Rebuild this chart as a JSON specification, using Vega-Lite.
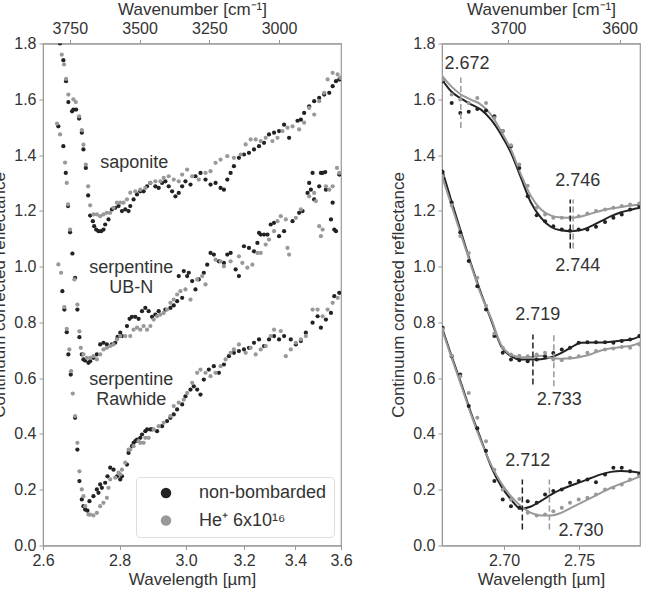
{
 "$schema": "https://vega.github.io/schema/vega-lite/v6.json",
 "padding": {"left": -10, "top": -0.5, "right": 0, "bottom": 0},
 "background": "white",
 "config": {
  "font": "Liberation Sans",
  "view": {"stroke": "#999999", "strokeWidth": 1.2},
  "axis": {"grid": false, "labelFontSize": 16, "titleFontSize": 17, "titleFontWeight": "normal", "labelColor": "#333333", "titleColor": "#333333", "domainColor": "#999999", "tickColor": "#999999", "tickSize": 4, "labelPadding": 3, "labelFont": "Liberation Sans", "titleFont": "Liberation Sans", "labelFlush": false, "labelOverlap": false, "labelBound": false},
  "text": {"font": "Liberation Sans"}
 },
 "datasets": {
  "left": [
   {"s":"S","g":"n","wn":3785.0,"r":1.8},{"s":"S","g":"n","wn":3773.2,"r":1.74},{"s":"S","g":"n","wn":3763.5,"r":1.665},{"s":"S","g":"n","wn":3755.2,"r":1.59},{"s":"S","g":"n","wn":3741.9,"r":1.557},{"s":"S","g":"n","wn":3737.2,"r":1.563},{"s":"S","g":"n","wn":3727.5,"r":1.563},{"s":"S","g":"n","wn":3716.7,"r":1.531},{"s":"S","g":"n","wn":3707.0,"r":1.48},{"s":"S","g":"n","wn":3701.2,"r":1.42},{"s":"S","g":"n","wn":3692.6,"r":1.354},{"s":"S","g":"n","wn":3684.3,"r":1.255},{"s":"S","g":"n","wn":3677.1,"r":1.183},{"s":"S","g":"n","wn":3667.4,"r":1.163},{"s":"S","g":"n","wn":3662.7,"r":1.145},{"s":"S","g":"n","wn":3655.5,"r":1.133},{"s":"S","g":"n","wn":3647.3,"r":1.127},{"s":"S","g":"n","wn":3637.6,"r":1.127},{"s":"S","g":"n","wn":3629.3,"r":1.133},{"s":"S","g":"n","wn":3623.2,"r":1.151},{"s":"S","g":"n","wn":3611.3,"r":1.169},{"s":"S","g":"n","wn":3599.1,"r":1.205},{"s":"S","g":"n","wn":3587.2,"r":1.211},{"s":"S","g":"n","wn":3575.3,"r":1.217},{"s":"S","g":"n","wn":3563.1,"r":1.199},{"s":"S","g":"n","wn":3551.2,"r":1.205},{"s":"S","g":"n","wn":3539.4,"r":1.199},{"s":"S","g":"n","wn":3533.3,"r":1.217},{"s":"S","g":"n","wn":3521.4,"r":1.241},{"s":"S","g":"n","wn":3509.2,"r":1.259},{"s":"S","g":"n","wn":3497.3,"r":1.27},{"s":"S","g":"n","wn":3485.4,"r":1.27},{"s":"S","g":"n","wn":3473.2,"r":1.288},{"s":"S","g":"n","wn":3461.3,"r":1.3},{"s":"S","g":"n","wn":3443.3,"r":1.288},{"s":"S","g":"n","wn":3431.4,"r":1.282},{"s":"S","g":"n","wn":3419.3,"r":1.3},{"s":"S","g":"n","wn":3407.4,"r":1.306},{"s":"S","g":"n","wn":3395.5,"r":1.288},{"s":"S","g":"n","wn":3383.3,"r":1.27},{"s":"S","g":"n","wn":3371.4,"r":1.252},{"s":"S","g":"n","wn":3359.5,"r":1.264},{"s":"S","g":"n","wn":3347.3,"r":1.288},{"s":"S","g":"n","wn":3335.4,"r":1.306},{"s":"S","g":"n","wn":3317.4,"r":1.294},{"s":"S","g":"n","wn":3299.5,"r":1.324},{"s":"S","g":"n","wn":3281.5,"r":1.336},{"s":"S","g":"n","wn":3263.5,"r":1.312},{"s":"S","g":"n","wn":3245.5,"r":1.294},{"s":"S","g":"n","wn":3227.5,"r":1.3},{"s":"S","g":"n","wn":3209.5,"r":1.282},{"s":"S","g":"n","wn":3197.6,"r":1.276},{"s":"S","g":"n","wn":3185.4,"r":1.312},{"s":"S","g":"n","wn":3173.5,"r":1.336},{"s":"S","g":"n","wn":3161.7,"r":1.36},{"s":"S","g":"n","wn":3143.7,"r":1.39},{"s":"S","g":"n","wn":3125.7,"r":1.402},{"s":"S","g":"n","wn":3107.7,"r":1.408},{"s":"S","g":"n","wn":3089.7,"r":1.42},{"s":"S","g":"n","wn":3071.7,"r":1.432},{"s":"S","g":"n","wn":3053.8,"r":1.444},{"s":"S","g":"n","wn":3035.8,"r":1.474},{"s":"S","g":"n","wn":3017.8,"r":1.48},{"s":"S","g":"n","wn":2999.8,"r":1.486},{"s":"S","g":"n","wn":2981.8,"r":1.509},{"s":"S","g":"n","wn":2963.8,"r":1.462},{"s":"S","g":"n","wn":2933.6,"r":1.523},{"s":"S","g":"n","wn":2921.7,"r":1.527},{"s":"S","g":"n","wn":2909.9,"r":1.551},{"s":"S","g":"n","wn":2891.9,"r":1.575},{"s":"S","g":"n","wn":2873.9,"r":1.593},{"s":"S","g":"n","wn":2855.9,"r":1.605},{"s":"S","g":"n","wn":2837.9,"r":1.617},{"s":"S","g":"n","wn":2819.9,"r":1.623},{"s":"S","g":"n","wn":2807.7,"r":1.647},{"s":"S","g":"n","wn":2795.8,"r":1.665},{"s":"S","g":"n","wn":2784.0,"r":1.671},
   {"s":"U","g":"n","wn":3791.2,"r":1.503},{"s":"U","g":"n","wn":3773.2,"r":1.432},{"s":"U","g":"n","wn":3764.5,"r":1.336},{"s":"U","g":"n","wn":3756.3,"r":1.217},{"s":"U","g":"n","wn":3749.1,"r":1.123},{"s":"U","g":"n","wn":3740.8,"r":1.047},{"s":"U","g":"n","wn":3731.1,"r":0.96},{"s":"U","g":"n","wn":3722.8,"r":0.846},{"s":"U","g":"n","wn":3715.6,"r":0.747},{"s":"U","g":"n","wn":3707.0,"r":0.685},{"s":"U","g":"n","wn":3701.2,"r":0.667},{"s":"U","g":"n","wn":3695.1,"r":0.663},{"s":"U","g":"n","wn":3683.3,"r":0.655},{"s":"U","g":"n","wn":3677.1,"r":0.661},{"s":"U","g":"n","wn":3665.3,"r":0.673},{"s":"U","g":"n","wn":3653.0,"r":0.685},{"s":"U","g":"n","wn":3641.2,"r":0.721},{"s":"U","g":"n","wn":3629.3,"r":0.727},{"s":"U","g":"n","wn":3617.1,"r":0.721},{"s":"U","g":"n","wn":3599.1,"r":0.721},{"s":"U","g":"n","wn":3587.2,"r":0.727},{"s":"U","g":"n","wn":3578.9,"r":0.748},{"s":"U","g":"n","wn":3569.2,"r":0.763},{"s":"U","g":"n","wn":3563.1,"r":0.751},{"s":"U","g":"n","wn":3545.1,"r":0.787},{"s":"U","g":"n","wn":3535.8,"r":0.813},{"s":"U","g":"n","wn":3527.2,"r":0.82},{"s":"U","g":"n","wn":3515.3,"r":0.82},{"s":"U","g":"n","wn":3503.4,"r":0.813},{"s":"U","g":"n","wn":3491.2,"r":0.84},{"s":"U","g":"n","wn":3479.3,"r":0.852},{"s":"U","g":"n","wn":3467.4,"r":0.84},{"s":"U","g":"n","wn":3455.2,"r":0.82},{"s":"U","g":"n","wn":3443.3,"r":0.828},{"s":"U","g":"n","wn":3431.4,"r":0.84},{"s":"U","g":"n","wn":3407.4,"r":0.846},{"s":"U","g":"n","wn":3389.4,"r":0.852},{"s":"U","g":"n","wn":3377.5,"r":0.861},{"s":"U","g":"n","wn":3365.3,"r":0.876},{"s":"U","g":"n","wn":3347.3,"r":0.888},{"s":"U","g":"n","wn":3359.5,"r":0.966},{"s":"U","g":"n","wn":3341.5,"r":0.984},{"s":"U","g":"n","wn":3329.3,"r":0.966},{"s":"U","g":"n","wn":3323.5,"r":0.978},{"s":"U","g":"n","wn":3311.3,"r":0.948},{"s":"U","g":"n","wn":3299.5,"r":0.918},{"s":"U","g":"n","wn":3287.6,"r":0.954},{"s":"U","g":"n","wn":3269.6,"r":0.978},{"s":"U","g":"n","wn":3257.4,"r":1.007},{"s":"U","g":"n","wn":3245.5,"r":1.049},{"s":"U","g":"n","wn":3233.6,"r":1.043},{"s":"U","g":"n","wn":3215.6,"r":1.019},{"s":"U","g":"n","wn":3197.6,"r":1.013},{"s":"U","g":"n","wn":3185.4,"r":1.043},{"s":"U","g":"n","wn":3173.5,"r":1.049},{"s":"U","g":"n","wn":3155.5,"r":0.99},{"s":"U","g":"n","wn":3143.7,"r":0.966},{"s":"U","g":"n","wn":3125.7,"r":1.073},{"s":"U","g":"n","wn":3107.7,"r":1.067},{"s":"U","g":"n","wn":3089.7,"r":1.055},{"s":"U","g":"n","wn":3077.5,"r":1.085},{"s":"U","g":"n","wn":3071.7,"r":1.121},{"s":"U","g":"n","wn":3065.6,"r":1.115},{"s":"U","g":"n","wn":3053.8,"r":1.115},{"s":"U","g":"n","wn":3041.6,"r":1.115},{"s":"U","g":"n","wn":3029.7,"r":1.151},{"s":"U","g":"n","wn":3017.8,"r":1.157},{"s":"U","g":"n","wn":2999.8,"r":1.109},{"s":"U","g":"n","wn":2981.8,"r":1.127},{"s":"U","g":"n","wn":2951.6,"r":1.163},{"s":"U","g":"n","wn":2927.8,"r":1.193},{"s":"U","g":"n","wn":2915.6,"r":1.199},{"s":"U","g":"n","wn":2897.7,"r":1.264},{"s":"U","g":"n","wn":2891.9,"r":1.3},{"s":"U","g":"n","wn":2885.8,"r":1.276},{"s":"U","g":"n","wn":2879.7,"r":1.336},{"s":"U","g":"n","wn":2873.9,"r":1.241},{"s":"U","g":"n","wn":2855.9,"r":1.288},{"s":"U","g":"n","wn":2849.8,"r":1.336},{"s":"U","g":"n","wn":2843.7,"r":1.336},{"s":"U","g":"n","wn":2834.3,"r":1.339},{"s":"U","g":"n","wn":2831.8,"r":1.276},{"s":"U","g":"n","wn":2813.8,"r":1.169},{"s":"U","g":"n","wn":2807.7,"r":1.229},{"s":"U","g":"n","wn":2801.9,"r":1.133},{"s":"U","g":"n","wn":2795.8,"r":1.127},{"s":"U","g":"n","wn":2784.0,"r":1.33},
   {"s":"R","g":"n","wn":3776.8,"r":0.912},{"s":"R","g":"n","wn":3769.6,"r":0.846},{"s":"R","g":"n","wn":3761.0,"r":0.765},{"s":"R","g":"n","wn":3755.2,"r":0.685},{"s":"R","g":"n","wn":3746.6,"r":0.613},{"s":"R","g":"n","wn":3731.1,"r":0.458},{"s":"R","g":"n","wn":3722.8,"r":0.344},{"s":"R","g":"n","wn":3715.6,"r":0.231},{"s":"R","g":"n","wn":3707.0,"r":0.165},{"s":"R","g":"n","wn":3701.2,"r":0.141},{"s":"R","g":"n","wn":3695.1,"r":0.129},{"s":"R","g":"n","wn":3686.8,"r":0.125},{"s":"R","g":"n","wn":3679.6,"r":0.159},{"s":"R","g":"n","wn":3665.3,"r":0.177},{"s":"R","g":"n","wn":3653.0,"r":0.201},{"s":"R","g":"n","wn":3647.3,"r":0.189},{"s":"R","g":"n","wn":3641.2,"r":0.219},{"s":"R","g":"n","wn":3635.1,"r":0.207},{"s":"R","g":"n","wn":3623.2,"r":0.225},{"s":"R","g":"n","wn":3614.9,"r":0.248},{"s":"R","g":"n","wn":3605.2,"r":0.279},{"s":"R","g":"n","wn":3593.3,"r":0.272},{"s":"R","g":"n","wn":3581.1,"r":0.248},{"s":"R","g":"n","wn":3569.2,"r":0.237},{"s":"R","g":"n","wn":3563.1,"r":0.248},{"s":"R","g":"n","wn":3545.1,"r":0.29},{"s":"R","g":"n","wn":3539.4,"r":0.332},{"s":"R","g":"n","wn":3527.2,"r":0.356},{"s":"R","g":"n","wn":3521.4,"r":0.368},{"s":"R","g":"n","wn":3515.3,"r":0.374},{"s":"R","g":"n","wn":3509.2,"r":0.38},{"s":"R","g":"n","wn":3497.3,"r":0.386},{"s":"R","g":"n","wn":3491.2,"r":0.398},{"s":"R","g":"n","wn":3479.3,"r":0.41},{"s":"R","g":"n","wn":3473.2,"r":0.416},{"s":"R","g":"n","wn":3461.3,"r":0.416},{"s":"R","g":"n","wn":3455.2,"r":0.416},{"s":"R","g":"n","wn":3437.2,"r":0.41},{"s":"R","g":"n","wn":3419.3,"r":0.428},{"s":"R","g":"n","wn":3401.3,"r":0.446},{"s":"R","g":"n","wn":3389.4,"r":0.458},{"s":"R","g":"n","wn":3377.5,"r":0.47},{"s":"R","g":"n","wn":3365.3,"r":0.488},{"s":"R","g":"n","wn":3347.3,"r":0.506},{"s":"R","g":"n","wn":3335.4,"r":0.535},{"s":"R","g":"n","wn":3317.4,"r":0.559},{"s":"R","g":"n","wn":3305.6,"r":0.571},{"s":"R","g":"n","wn":3293.4,"r":0.559},{"s":"R","g":"n","wn":3281.5,"r":0.541},{"s":"R","g":"n","wn":3269.6,"r":0.595},{"s":"R","g":"n","wn":3251.6,"r":0.631},{"s":"R","g":"n","wn":3233.6,"r":0.643},{"s":"R","g":"n","wn":3215.6,"r":0.619},{"s":"R","g":"n","wn":3197.6,"r":0.649},{"s":"R","g":"n","wn":3179.6,"r":0.679},{"s":"R","g":"n","wn":3161.7,"r":0.691},{"s":"R","g":"n","wn":3143.7,"r":0.697},{"s":"R","g":"n","wn":3125.7,"r":0.703},{"s":"R","g":"n","wn":3107.7,"r":0.709},{"s":"R","g":"n","wn":3089.7,"r":0.727},{"s":"R","g":"n","wn":3071.7,"r":0.739},{"s":"R","g":"n","wn":3053.8,"r":0.715},{"s":"R","g":"n","wn":3035.8,"r":0.739},{"s":"R","g":"n","wn":3017.8,"r":0.751},{"s":"R","g":"n","wn":2999.8,"r":0.739},{"s":"R","g":"n","wn":2981.8,"r":0.751},{"s":"R","g":"n","wn":2957.7,"r":0.739},{"s":"R","g":"n","wn":2939.7,"r":0.721},{"s":"R","g":"n","wn":2921.7,"r":0.733},{"s":"R","g":"n","wn":2903.8,"r":0.763},{"s":"R","g":"n","wn":2879.7,"r":0.799},{"s":"R","g":"n","wn":2861.7,"r":0.822},{"s":"R","g":"n","wn":2849.8,"r":0.781},{"s":"R","g":"n","wn":2831.8,"r":0.81},{"s":"R","g":"n","wn":2813.8,"r":0.834},{"s":"R","g":"n","wn":2801.9,"r":0.894},{"s":"R","g":"n","wn":2784.0,"r":0.906},
   {"s":"S","g":"h","wn":3791.2,"r":1.81},{"s":"S","g":"h","wn":3778.9,"r":1.76},{"s":"S","g":"h","wn":3770.7,"r":1.725},{"s":"S","g":"h","wn":3763.5,"r":1.673},{"s":"S","g":"h","wn":3755.2,"r":1.617},{"s":"S","g":"h","wn":3737.2,"r":1.6},{"s":"S","g":"h","wn":3728.6,"r":1.59},{"s":"S","g":"h","wn":3716.7,"r":1.539},{"s":"S","g":"h","wn":3707.0,"r":1.489},{"s":"S","g":"h","wn":3701.2,"r":1.437},{"s":"S","g":"h","wn":3692.6,"r":1.366},{"s":"S","g":"h","wn":3684.3,"r":1.288},{"s":"S","g":"h","wn":3677.1,"r":1.22},{"s":"S","g":"h","wn":3665.3,"r":1.187},{"s":"S","g":"h","wn":3653.0,"r":1.187},{"s":"S","g":"h","wn":3641.2,"r":1.181},{"s":"S","g":"h","wn":3629.3,"r":1.187},{"s":"S","g":"h","wn":3617.1,"r":1.193},{"s":"S","g":"h","wn":3605.2,"r":1.193},{"s":"S","g":"h","wn":3593.3,"r":1.211},{"s":"S","g":"h","wn":3581.1,"r":1.229},{"s":"S","g":"h","wn":3569.2,"r":1.229},{"s":"S","g":"h","wn":3557.4,"r":1.229},{"s":"S","g":"h","wn":3545.1,"r":1.241},{"s":"S","g":"h","wn":3533.3,"r":1.265},{"s":"S","g":"h","wn":3515.3,"r":1.27},{"s":"S","g":"h","wn":3497.3,"r":1.276},{"s":"S","g":"h","wn":3479.3,"r":1.282},{"s":"S","g":"h","wn":3461.3,"r":1.3},{"s":"S","g":"h","wn":3443.3,"r":1.306},{"s":"S","g":"h","wn":3425.3,"r":1.306},{"s":"S","g":"h","wn":3413.5,"r":1.318},{"s":"S","g":"h","wn":3395.5,"r":1.324},{"s":"S","g":"h","wn":3377.5,"r":1.312},{"s":"S","g":"h","wn":3359.5,"r":1.306},{"s":"S","g":"h","wn":3347.3,"r":1.33},{"s":"S","g":"h","wn":3329.3,"r":1.348},{"s":"S","g":"h","wn":3311.3,"r":1.324},{"s":"S","g":"h","wn":3287.6,"r":1.312},{"s":"S","g":"h","wn":3263.5,"r":1.336},{"s":"S","g":"h","wn":3245.5,"r":1.342},{"s":"S","g":"h","wn":3227.5,"r":1.372},{"s":"S","g":"h","wn":3209.5,"r":1.384},{"s":"S","g":"h","wn":3185.4,"r":1.396},{"s":"S","g":"h","wn":3161.7,"r":1.39},{"s":"S","g":"h","wn":3137.6,"r":1.402},{"s":"S","g":"h","wn":3119.6,"r":1.438},{"s":"S","g":"h","wn":3101.6,"r":1.456},{"s":"S","g":"h","wn":3083.6,"r":1.456},{"s":"S","g":"h","wn":3065.6,"r":1.45},{"s":"S","g":"h","wn":3047.7,"r":1.462},{"s":"S","g":"h","wn":3023.6,"r":1.45},{"s":"S","g":"h","wn":3005.6,"r":1.462},{"s":"S","g":"h","wn":2987.6,"r":1.486},{"s":"S","g":"h","wn":2969.6,"r":1.498},{"s":"S","g":"h","wn":2951.6,"r":1.503},{"s":"S","g":"h","wn":2927.8,"r":1.492},{"s":"S","g":"h","wn":2909.9,"r":1.516},{"s":"S","g":"h","wn":2891.9,"r":1.569},{"s":"S","g":"h","wn":2873.9,"r":1.545},{"s":"S","g":"h","wn":2855.9,"r":1.593},{"s":"S","g":"h","wn":2837.9,"r":1.623},{"s":"S","g":"h","wn":2825.7,"r":1.671},{"s":"S","g":"h","wn":2807.7,"r":1.695},{"s":"S","g":"h","wn":2789.7,"r":1.689},{"s":"S","g":"h","wn":2780.0,"r":1.677},
   {"s":"U","g":"h","wn":3795.8,"r":1.513},{"s":"U","g":"h","wn":3785.0,"r":1.474},{"s":"U","g":"h","wn":3767.1,"r":1.373},{"s":"U","g":"h","wn":3761.0,"r":1.3},{"s":"U","g":"h","wn":3756.3,"r":1.223},{"s":"U","g":"h","wn":3749.1,"r":1.133},{"s":"U","g":"h","wn":3733.6,"r":0.954},{"s":"U","g":"h","wn":3722.8,"r":0.864},{"s":"U","g":"h","wn":3715.6,"r":0.768},{"s":"U","g":"h","wn":3710.6,"r":0.709},{"s":"U","g":"h","wn":3701.2,"r":0.685},{"s":"U","g":"h","wn":3689.0,"r":0.673},{"s":"U","g":"h","wn":3677.1,"r":0.673},{"s":"U","g":"h","wn":3665.3,"r":0.679},{"s":"U","g":"h","wn":3653.0,"r":0.667},{"s":"U","g":"h","wn":3641.2,"r":0.685},{"s":"U","g":"h","wn":3629.3,"r":0.703},{"s":"U","g":"h","wn":3617.1,"r":0.709},{"s":"U","g":"h","wn":3605.2,"r":0.715},{"s":"U","g":"h","wn":3593.3,"r":0.721},{"s":"U","g":"h","wn":3581.1,"r":0.739},{"s":"U","g":"h","wn":3569.2,"r":0.751},{"s":"U","g":"h","wn":3551.2,"r":0.751},{"s":"U","g":"h","wn":3533.3,"r":0.751},{"s":"U","g":"h","wn":3521.4,"r":0.774},{"s":"U","g":"h","wn":3509.2,"r":0.781},{"s":"U","g":"h","wn":3497.3,"r":0.774},{"s":"U","g":"h","wn":3485.4,"r":0.787},{"s":"U","g":"h","wn":3473.2,"r":0.774},{"s":"U","g":"h","wn":3461.3,"r":0.787},{"s":"U","g":"h","wn":3449.4,"r":0.81},{"s":"U","g":"h","wn":3437.2,"r":0.822},{"s":"U","g":"h","wn":3425.3,"r":0.828},{"s":"U","g":"h","wn":3413.5,"r":0.834},{"s":"U","g":"h","wn":3401.3,"r":0.846},{"s":"U","g":"h","wn":3389.4,"r":0.87},{"s":"U","g":"h","wn":3377.5,"r":0.882},{"s":"U","g":"h","wn":3365.3,"r":0.9},{"s":"U","g":"h","wn":3353.4,"r":0.912},{"s":"U","g":"h","wn":3335.4,"r":0.918},{"s":"U","g":"h","wn":3317.4,"r":0.882},{"s":"U","g":"h","wn":3293.4,"r":0.954},{"s":"U","g":"h","wn":3275.4,"r":0.966},{"s":"U","g":"h","wn":3263.5,"r":0.936},{"s":"U","g":"h","wn":3227.5,"r":1.025},{"s":"U","g":"h","wn":3209.5,"r":1.019},{"s":"U","g":"h","wn":3197.6,"r":1.001},{"s":"U","g":"h","wn":3173.5,"r":1.019},{"s":"U","g":"h","wn":3143.7,"r":1.037},{"s":"U","g":"h","wn":3131.5,"r":1.013},{"s":"U","g":"h","wn":3113.5,"r":0.996},{"s":"U","g":"h","wn":3095.5,"r":1.007},{"s":"U","g":"h","wn":3077.5,"r":1.049},{"s":"U","g":"h","wn":3065.6,"r":1.049},{"s":"U","g":"h","wn":3047.7,"r":1.079},{"s":"U","g":"h","wn":3035.8,"r":1.097},{"s":"U","g":"h","wn":3017.8,"r":1.127},{"s":"U","g":"h","wn":3005.6,"r":1.163},{"s":"U","g":"h","wn":2993.7,"r":1.181},{"s":"U","g":"h","wn":2975.7,"r":1.169},{"s":"U","g":"h","wn":2969.6,"r":1.067},{"s":"U","g":"h","wn":2963.8,"r":1.043},{"s":"U","g":"h","wn":2939.7,"r":1.175},{"s":"U","g":"h","wn":2921.7,"r":1.205},{"s":"U","g":"h","wn":2891.9,"r":1.252},{"s":"U","g":"h","wn":2873.9,"r":1.264},{"s":"U","g":"h","wn":2867.8,"r":1.235},{"s":"U","g":"h","wn":2855.9,"r":1.145},{"s":"U","g":"h","wn":2849.8,"r":1.109},{"s":"U","g":"h","wn":2843.7,"r":1.133},{"s":"U","g":"h","wn":2831.8,"r":1.288},{"s":"U","g":"h","wn":2819.9,"r":1.276},{"s":"U","g":"h","wn":2807.7,"r":1.288},{"s":"U","g":"h","wn":2792.2,"r":1.354},{"s":"U","g":"h","wn":2784.0,"r":1.336},
   {"s":"R","g":"h","wn":3791.2,"r":1.008},{"s":"R","g":"h","wn":3781.4,"r":0.978},{"s":"R","g":"h","wn":3769.6,"r":0.855},{"s":"R","g":"h","wn":3761.0,"r":0.777},{"s":"R","g":"h","wn":3751.6,"r":0.703},{"s":"R","g":"h","wn":3745.5,"r":0.625},{"s":"R","g":"h","wn":3739.4,"r":0.545},{"s":"R","g":"h","wn":3731.1,"r":0.464},{"s":"R","g":"h","wn":3722.8,"r":0.368},{"s":"R","g":"h","wn":3715.6,"r":0.266},{"s":"R","g":"h","wn":3707.0,"r":0.201},{"s":"R","g":"h","wn":3701.2,"r":0.177},{"s":"R","g":"h","wn":3695.1,"r":0.141},{"s":"R","g":"h","wn":3683.3,"r":0.111},{"s":"R","g":"h","wn":3677.1,"r":0.111},{"s":"R","g":"h","wn":3665.3,"r":0.108},{"s":"R","g":"h","wn":3653.0,"r":0.117},{"s":"R","g":"h","wn":3641.2,"r":0.141},{"s":"R","g":"h","wn":3629.3,"r":0.153},{"s":"R","g":"h","wn":3617.1,"r":0.171},{"s":"R","g":"h","wn":3611.3,"r":0.207},{"s":"R","g":"h","wn":3605.2,"r":0.237},{"s":"R","g":"h","wn":3587.2,"r":0.243},{"s":"R","g":"h","wn":3575.3,"r":0.261},{"s":"R","g":"h","wn":3569.2,"r":0.255},{"s":"R","g":"h","wn":3563.1,"r":0.272},{"s":"R","g":"h","wn":3551.2,"r":0.297},{"s":"R","g":"h","wn":3539.4,"r":0.344},{"s":"R","g":"h","wn":3533.3,"r":0.344},{"s":"R","g":"h","wn":3521.4,"r":0.356},{"s":"R","g":"h","wn":3503.4,"r":0.374},{"s":"R","g":"h","wn":3497.3,"r":0.368},{"s":"R","g":"h","wn":3485.4,"r":0.368},{"s":"R","g":"h","wn":3479.3,"r":0.386},{"s":"R","g":"h","wn":3467.4,"r":0.386},{"s":"R","g":"h","wn":3449.4,"r":0.416},{"s":"R","g":"h","wn":3431.4,"r":0.428},{"s":"R","g":"h","wn":3413.5,"r":0.44},{"s":"R","g":"h","wn":3389.4,"r":0.464},{"s":"R","g":"h","wn":3377.5,"r":0.5},{"s":"R","g":"h","wn":3359.5,"r":0.512},{"s":"R","g":"h","wn":3341.5,"r":0.523},{"s":"R","g":"h","wn":3329.3,"r":0.547},{"s":"R","g":"h","wn":3311.3,"r":0.583},{"s":"R","g":"h","wn":3293.4,"r":0.619},{"s":"R","g":"h","wn":3281.5,"r":0.631},{"s":"R","g":"h","wn":3263.5,"r":0.619},{"s":"R","g":"h","wn":3245.5,"r":0.607},{"s":"R","g":"h","wn":3227.5,"r":0.619},{"s":"R","g":"h","wn":3209.5,"r":0.643},{"s":"R","g":"h","wn":3191.5,"r":0.667},{"s":"R","g":"h","wn":3173.5,"r":0.691},{"s":"R","g":"h","wn":3161.7,"r":0.703},{"s":"R","g":"h","wn":3143.7,"r":0.721},{"s":"R","g":"h","wn":3119.6,"r":0.691},{"s":"R","g":"h","wn":3101.6,"r":0.709},{"s":"R","g":"h","wn":3083.6,"r":0.685},{"s":"R","g":"h","wn":3065.6,"r":0.703},{"s":"R","g":"h","wn":3047.7,"r":0.715},{"s":"R","g":"h","wn":3029.7,"r":0.751},{"s":"R","g":"h","wn":3017.8,"r":0.774},{"s":"R","g":"h","wn":2993.7,"r":0.769},{"s":"R","g":"h","wn":2975.7,"r":0.679},{"s":"R","g":"h","wn":2957.7,"r":0.703},{"s":"R","g":"h","wn":2939.7,"r":0.727},{"s":"R","g":"h","wn":2921.7,"r":0.739},{"s":"R","g":"h","wn":2903.8,"r":0.751},{"s":"R","g":"h","wn":2879.7,"r":0.846},{"s":"R","g":"h","wn":2861.7,"r":0.846},{"s":"R","g":"h","wn":2843.7,"r":0.822},{"s":"R","g":"h","wn":2825.7,"r":0.846},{"s":"R","g":"h","wn":2807.7,"r":0.87},{"s":"R","g":"h","wn":2789.7,"r":0.888}
  ],
  "ltext": [
   {"wn":3518.9,"r":1.373,"t":"saponite"},{"wn":3529.7,"r":0.996,"t":"serpentine"},{"wn":3529.7,"r":0.924,"t":"UB-N"},{"wn":3529.7,"r":0.594,"t":"serpentine"},{"wn":3529.7,"r":0.521,"t":"Rawhide"}
  ],
  "rpts": [
   {"s":"S","g":"n","wn":3758.8,"r":1.665},{"s":"S","g":"n","wn":3750.7,"r":1.587},{"s":"S","g":"n","wn":3743.0,"r":1.551},{"s":"S","g":"n","wn":3735.4,"r":1.555},{"s":"S","g":"n","wn":3727.7,"r":1.565},{"s":"S","g":"n","wn":3719.9,"r":1.56},{"s":"S","g":"n","wn":3712.4,"r":1.539},{"s":"S","g":"n","wn":3704.9,"r":1.486},{"s":"S","g":"n","wn":3697.5,"r":1.432},{"s":"S","g":"n","wn":3690.0,"r":1.354},{"s":"S","g":"n","wn":3682.5,"r":1.252},{"s":"S","g":"n","wn":3674.4,"r":1.184},{"s":"S","g":"n","wn":3666.9,"r":1.163},{"s":"S","g":"n","wn":3659.5,"r":1.145},{"s":"S","g":"n","wn":3651.9,"r":1.133},{"s":"S","g":"n","wn":3644.5,"r":1.129},{"s":"S","g":"n","wn":3636.7,"r":1.133},{"s":"S","g":"n","wn":3628.9,"r":1.133},{"s":"S","g":"n","wn":3621.2,"r":1.143},{"s":"S","g":"n","wn":3613.1,"r":1.16},{"s":"S","g":"n","wn":3605.6,"r":1.175},{"s":"S","g":"n","wn":3598.1,"r":1.187},{"s":"S","g":"n","wn":3590.6,"r":1.205},{"s":"S","g":"n","wn":3582.3,"r":1.217},
   {"s":"U","g":"n","wn":3758.8,"r":1.339},{"s":"U","g":"n","wn":3750.7,"r":1.23},{"s":"U","g":"n","wn":3743.0,"r":1.123},{"s":"U","g":"n","wn":3735.4,"r":1.02},{"s":"U","g":"n","wn":3727.7,"r":0.93},{"s":"U","g":"n","wn":3719.9,"r":0.846},{"s":"U","g":"n","wn":3712.4,"r":0.751},{"s":"U","g":"n","wn":3704.9,"r":0.691},{"s":"U","g":"n","wn":3697.5,"r":0.667},{"s":"U","g":"n","wn":3690.0,"r":0.664},{"s":"U","g":"n","wn":3682.5,"r":0.661},{"s":"U","g":"n","wn":3674.4,"r":0.667},{"s":"U","g":"n","wn":3666.9,"r":0.679},{"s":"U","g":"n","wn":3659.5,"r":0.69},{"s":"U","g":"n","wn":3651.9,"r":0.703},{"s":"U","g":"n","wn":3644.5,"r":0.709},{"s":"U","g":"n","wn":3636.7,"r":0.727},{"s":"U","g":"n","wn":3628.9,"r":0.729},{"s":"U","g":"n","wn":3621.2,"r":0.729},{"s":"U","g":"n","wn":3613.1,"r":0.729},{"s":"U","g":"n","wn":3605.6,"r":0.727},{"s":"U","g":"n","wn":3598.1,"r":0.733},{"s":"U","g":"n","wn":3590.6,"r":0.739},{"s":"U","g":"n","wn":3582.3,"r":0.751},
   {"s":"R","g":"n","wn":3758.8,"r":0.781},{"s":"R","g":"n","wn":3750.7,"r":0.679},{"s":"R","g":"n","wn":3743.0,"r":0.613},{"s":"R","g":"n","wn":3735.4,"r":0.5},{"s":"R","g":"n","wn":3727.7,"r":0.42},{"s":"R","g":"n","wn":3719.9,"r":0.34},{"s":"R","g":"n","wn":3712.4,"r":0.231},{"s":"R","g":"n","wn":3704.9,"r":0.165},{"s":"R","g":"n","wn":3697.5,"r":0.141},{"s":"R","g":"n","wn":3690.0,"r":0.135},{"s":"R","g":"n","wn":3682.5,"r":0.159},{"s":"R","g":"n","wn":3674.4,"r":0.153},{"s":"R","g":"n","wn":3666.9,"r":0.183},{"s":"R","g":"n","wn":3659.5,"r":0.195},{"s":"R","g":"n","wn":3651.9,"r":0.201},{"s":"R","g":"n","wn":3644.5,"r":0.225},{"s":"R","g":"n","wn":3636.7,"r":0.231},{"s":"R","g":"n","wn":3628.9,"r":0.237},{"s":"R","g":"n","wn":3621.2,"r":0.227},{"s":"R","g":"n","wn":3613.1,"r":0.255},{"s":"R","g":"n","wn":3605.6,"r":0.279},{"s":"R","g":"n","wn":3598.1,"r":0.279},{"s":"R","g":"n","wn":3590.6,"r":0.266},{"s":"R","g":"n","wn":3582.3,"r":0.255},
   {"s":"S","g":"h","wn":3758.8,"r":1.67},{"s":"S","g":"h","wn":3750.7,"r":1.617},{"s":"S","g":"h","wn":3743.0,"r":1.599},{"s":"S","g":"h","wn":3735.4,"r":1.587},{"s":"S","g":"h","wn":3727.7,"r":1.605},{"s":"S","g":"h","wn":3719.9,"r":1.587},{"s":"S","g":"h","wn":3712.4,"r":1.533},{"s":"S","g":"h","wn":3704.9,"r":1.486},{"s":"S","g":"h","wn":3697.5,"r":1.435},{"s":"S","g":"h","wn":3690.0,"r":1.366},{"s":"S","g":"h","wn":3682.5,"r":1.29},{"s":"S","g":"h","wn":3674.4,"r":1.211},{"s":"S","g":"h","wn":3666.9,"r":1.187},{"s":"S","g":"h","wn":3659.5,"r":1.175},{"s":"S","g":"h","wn":3651.9,"r":1.175},{"s":"S","g":"h","wn":3644.5,"r":1.175},{"s":"S","g":"h","wn":3636.7,"r":1.181},{"s":"S","g":"h","wn":3628.9,"r":1.19},{"s":"S","g":"h","wn":3621.2,"r":1.199},{"s":"S","g":"h","wn":3613.1,"r":1.205},{"s":"S","g":"h","wn":3605.6,"r":1.211},{"s":"S","g":"h","wn":3598.1,"r":1.217},{"s":"S","g":"h","wn":3590.6,"r":1.223},{"s":"S","g":"h","wn":3582.3,"r":1.226},
   {"s":"U","g":"h","wn":3758.8,"r":1.324},{"s":"U","g":"h","wn":3750.7,"r":1.22},{"s":"U","g":"h","wn":3743.0,"r":1.11},{"s":"U","g":"h","wn":3735.4,"r":1.049},{"s":"U","g":"h","wn":3727.7,"r":0.96},{"s":"U","g":"h","wn":3719.9,"r":0.86},{"s":"U","g":"h","wn":3712.4,"r":0.76},{"s":"U","g":"h","wn":3704.9,"r":0.709},{"s":"U","g":"h","wn":3697.5,"r":0.685},{"s":"U","g":"h","wn":3690.0,"r":0.68},{"s":"U","g":"h","wn":3682.5,"r":0.679},{"s":"U","g":"h","wn":3674.4,"r":0.685},{"s":"U","g":"h","wn":3666.9,"r":0.691},{"s":"U","g":"h","wn":3659.5,"r":0.667},{"s":"U","g":"h","wn":3651.9,"r":0.664},{"s":"U","g":"h","wn":3644.5,"r":0.673},{"s":"U","g":"h","wn":3636.7,"r":0.679},{"s":"U","g":"h","wn":3628.9,"r":0.691},{"s":"U","g":"h","wn":3621.2,"r":0.697},{"s":"U","g":"h","wn":3613.1,"r":0.703},{"s":"U","g":"h","wn":3605.6,"r":0.706},{"s":"U","g":"h","wn":3598.1,"r":0.712},{"s":"U","g":"h","wn":3590.6,"r":0.709},{"s":"U","g":"h","wn":3582.3,"r":0.721},
   {"s":"R","g":"h","wn":3758.8,"r":0.775},{"s":"R","g":"h","wn":3750.7,"r":0.68},{"s":"R","g":"h","wn":3743.0,"r":0.607},{"s":"R","g":"h","wn":3735.4,"r":0.547},{"s":"R","g":"h","wn":3727.7,"r":0.458},{"s":"R","g":"h","wn":3719.9,"r":0.374},{"s":"R","g":"h","wn":3712.4,"r":0.272},{"s":"R","g":"h","wn":3704.9,"r":0.201},{"s":"R","g":"h","wn":3697.5,"r":0.165},{"s":"R","g":"h","wn":3690.0,"r":0.167},{"s":"R","g":"h","wn":3682.5,"r":0.117},{"s":"R","g":"h","wn":3674.4,"r":0.108},{"s":"R","g":"h","wn":3666.9,"r":0.111},{"s":"R","g":"h","wn":3659.5,"r":0.123},{"s":"R","g":"h","wn":3651.9,"r":0.135},{"s":"R","g":"h","wn":3644.5,"r":0.153},{"s":"R","g":"h","wn":3636.7,"r":0.165},{"s":"R","g":"h","wn":3628.9,"r":0.171},{"s":"R","g":"h","wn":3621.2,"r":0.183},{"s":"R","g":"h","wn":3613.1,"r":0.201},{"s":"R","g":"h","wn":3605.6,"r":0.207},{"s":"R","g":"h","wn":3598.1,"r":0.219},{"s":"R","g":"h","wn":3590.6,"r":0.237},{"s":"R","g":"h","wn":3582.3,"r":0.248}
  ],
  "rline": [
   {"s":"S","g":"n","wn":3759.4,"r":1.671},{"s":"S","g":"n","wn":3751.3,"r":1.629},{"s":"S","g":"n","wn":3742.4,"r":1.603},{"s":"S","g":"n","wn":3733.4,"r":1.582},{"s":"S","g":"n","wn":3724.4,"r":1.563},{"s":"S","g":"n","wn":3715.4,"r":1.527},{"s":"S","g":"n","wn":3706.4,"r":1.474},{"s":"S","g":"n","wn":3697.5,"r":1.408},{"s":"S","g":"n","wn":3688.5,"r":1.318},{"s":"S","g":"n","wn":3679.5,"r":1.229},{"s":"S","g":"n","wn":3670.5,"r":1.175},{"s":"S","g":"n","wn":3661.5,"r":1.142},{"s":"S","g":"n","wn":3652.6,"r":1.13},{"s":"S","g":"n","wn":3643.6,"r":1.127},{"s":"S","g":"n","wn":3634.6,"r":1.131},{"s":"S","g":"n","wn":3625.6,"r":1.145},{"s":"S","g":"n","wn":3616.7,"r":1.163},{"s":"S","g":"n","wn":3607.7,"r":1.181},{"s":"S","g":"n","wn":3598.7,"r":1.195},{"s":"S","g":"n","wn":3589.7,"r":1.204},{"s":"S","g":"n","wn":3581.4,"r":1.211},
   {"s":"S","g":"h","wn":3759.4,"r":1.685},{"s":"S","g":"h","wn":3751.3,"r":1.647},{"s":"S","g":"h","wn":3742.4,"r":1.617},{"s":"S","g":"h","wn":3733.4,"r":1.599},{"s":"S","g":"h","wn":3724.4,"r":1.581},{"s":"S","g":"h","wn":3715.4,"r":1.545},{"s":"S","g":"h","wn":3706.4,"r":1.486},{"s":"S","g":"h","wn":3697.5,"r":1.42},{"s":"S","g":"h","wn":3688.5,"r":1.33},{"s":"S","g":"h","wn":3679.5,"r":1.252},{"s":"S","g":"h","wn":3670.5,"r":1.205},{"s":"S","g":"h","wn":3661.5,"r":1.183},{"s":"S","g":"h","wn":3652.6,"r":1.176},{"s":"S","g":"h","wn":3643.6,"r":1.175},{"s":"S","g":"h","wn":3634.6,"r":1.18},{"s":"S","g":"h","wn":3625.6,"r":1.19},{"s":"S","g":"h","wn":3616.7,"r":1.2},{"s":"S","g":"h","wn":3607.7,"r":1.208},{"s":"S","g":"h","wn":3598.7,"r":1.214},{"s":"S","g":"h","wn":3589.7,"r":1.219},{"s":"S","g":"h","wn":3581.4,"r":1.223},
   {"s":"U","g":"n","wn":3759.4,"r":1.348},{"s":"U","g":"n","wn":3751.3,"r":1.24},{"s":"U","g":"n","wn":3742.4,"r":1.125},{"s":"U","g":"n","wn":3733.4,"r":1.01},{"s":"U","g":"n","wn":3724.4,"r":0.905},{"s":"U","g":"n","wn":3715.4,"r":0.81},{"s":"U","g":"n","wn":3706.4,"r":0.715},{"s":"U","g":"n","wn":3697.5,"r":0.679},{"s":"U","g":"n","wn":3688.5,"r":0.667},{"s":"U","g":"n","wn":3679.5,"r":0.667},{"s":"U","g":"n","wn":3670.5,"r":0.668},{"s":"U","g":"n","wn":3661.5,"r":0.675},{"s":"U","g":"n","wn":3652.6,"r":0.69},{"s":"U","g":"n","wn":3643.6,"r":0.71},{"s":"U","g":"n","wn":3634.6,"r":0.727},{"s":"U","g":"n","wn":3625.6,"r":0.728},{"s":"U","g":"n","wn":3616.7,"r":0.728},{"s":"U","g":"n","wn":3607.7,"r":0.731},{"s":"U","g":"n","wn":3598.7,"r":0.735},{"s":"U","g":"n","wn":3589.7,"r":0.739},{"s":"U","g":"n","wn":3581.4,"r":0.751},
   {"s":"U","g":"h","wn":3759.4,"r":1.324},{"s":"U","g":"h","wn":3751.3,"r":1.225},{"s":"U","g":"h","wn":3742.4,"r":1.115},{"s":"U","g":"h","wn":3733.4,"r":1.005},{"s":"U","g":"h","wn":3724.4,"r":0.9},{"s":"U","g":"h","wn":3715.4,"r":0.815},{"s":"U","g":"h","wn":3706.4,"r":0.72},{"s":"U","g":"h","wn":3697.5,"r":0.684},{"s":"U","g":"h","wn":3688.5,"r":0.675},{"s":"U","g":"h","wn":3679.5,"r":0.676},{"s":"U","g":"h","wn":3670.5,"r":0.68},{"s":"U","g":"h","wn":3661.5,"r":0.672},{"s":"U","g":"h","wn":3652.6,"r":0.67},{"s":"U","g":"h","wn":3643.6,"r":0.671},{"s":"U","g":"h","wn":3634.6,"r":0.677},{"s":"U","g":"h","wn":3625.6,"r":0.686},{"s":"U","g":"h","wn":3616.7,"r":0.699},{"s":"U","g":"h","wn":3607.7,"r":0.707},{"s":"U","g":"h","wn":3598.7,"r":0.712},{"s":"U","g":"h","wn":3589.7,"r":0.716},{"s":"U","g":"h","wn":3581.4,"r":0.727},
   {"s":"R","g":"n","wn":3759.4,"r":0.781},{"s":"R","g":"n","wn":3751.3,"r":0.685},{"s":"R","g":"n","wn":3742.4,"r":0.583},{"s":"R","g":"n","wn":3733.4,"r":0.476},{"s":"R","g":"n","wn":3724.4,"r":0.38},{"s":"R","g":"n","wn":3715.4,"r":0.284},{"s":"R","g":"n","wn":3706.4,"r":0.213},{"s":"R","g":"n","wn":3697.5,"r":0.165},{"s":"R","g":"n","wn":3688.5,"r":0.132},{"s":"R","g":"n","wn":3679.5,"r":0.14},{"s":"R","g":"n","wn":3670.5,"r":0.16},{"s":"R","g":"n","wn":3661.5,"r":0.182},{"s":"R","g":"n","wn":3652.6,"r":0.201},{"s":"R","g":"n","wn":3643.6,"r":0.215},{"s":"R","g":"n","wn":3634.6,"r":0.228},{"s":"R","g":"n","wn":3625.6,"r":0.242},{"s":"R","g":"n","wn":3616.7,"r":0.255},{"s":"R","g":"n","wn":3607.7,"r":0.264},{"s":"R","g":"n","wn":3598.7,"r":0.267},{"s":"R","g":"n","wn":3589.7,"r":0.265},{"s":"R","g":"n","wn":3581.4,"r":0.261},
   {"s":"R","g":"h","wn":3759.4,"r":0.775},{"s":"R","g":"h","wn":3751.3,"r":0.679},{"s":"R","g":"h","wn":3742.4,"r":0.577},{"s":"R","g":"h","wn":3733.4,"r":0.47},{"s":"R","g":"h","wn":3724.4,"r":0.374},{"s":"R","g":"h","wn":3715.4,"r":0.29},{"s":"R","g":"h","wn":3706.4,"r":0.225},{"s":"R","g":"h","wn":3697.5,"r":0.177},{"s":"R","g":"h","wn":3688.5,"r":0.141},{"s":"R","g":"h","wn":3679.5,"r":0.117},{"s":"R","g":"h","wn":3670.5,"r":0.108},{"s":"R","g":"h","wn":3661.5,"r":0.108},{"s":"R","g":"h","wn":3652.6,"r":0.117},{"s":"R","g":"h","wn":3643.6,"r":0.135},{"s":"R","g":"h","wn":3634.6,"r":0.153},{"s":"R","g":"h","wn":3625.6,"r":0.171},{"s":"R","g":"h","wn":3616.7,"r":0.189},{"s":"R","g":"h","wn":3607.7,"r":0.207},{"s":"R","g":"h","wn":3598.7,"r":0.222},{"s":"R","g":"h","wn":3589.7,"r":0.235},{"s":"R","g":"h","wn":3581.4,"r":0.248}
  ],
  "rrule": [
   {"g":"h","wn":3742.5,"r1":1.497,"r2":1.678},
   {"g":"n","wn":3644.3,"r1":1.065,"r2":1.241},
   {"g":"h","wn":3641.7,"r1":1.065,"r2":1.241},
   {"g":"n","wn":3677.8,"r1":0.577,"r2":0.757},
   {"g":"h","wn":3659.0,"r1":0.571,"r2":0.757},
   {"g":"n","wn":3687.3,"r1":0.057,"r2":0.237},
   {"g":"h","wn":3663.0,"r1":0.057,"r2":0.237}
  ],
  "rtext": [
   {"wn":3737.0,"r":1.725,"t":"2.672"},{"wn":3637.6,"r":1.306,"t":"2.746"},{"wn":3637.6,"r":1.001,"t":"2.744"},{"wn":3673.5,"r":0.825,"t":"2.719"},{"wn":3654.1,"r":0.523,"t":"2.733"},{"wn":3682.5,"r":0.302,"t":"2.712"},{"wn":3634.6,"r":0.051,"t":"2.730"}
  ]
 },
 "hconcat": [
  {
   "width": 298,
   "height": 502,
   "layer": [
    {
     "data": {"name": "left"},
     "mark": {"type": "point", "filled": true, "size": 18, "opacity": 1, "clip": true},
     "encoding": {
      "x": {"field": "wn", "type": "quantitative",
            "scale": {"domain": [2777.78, 3846.15], "reverse": true, "nice": false, "zero": false},
            "axis": {"orient": "bottom", "title": "Wavelength [µm]", "values": [3846.15, 3571.43, 3333.33, 3125, 2941.18, 2777.78], "labelExpr": "format(10000/datum.value, '.1f')", "titlePadding": 3}},
      "y": {"field": "r", "type": "quantitative", "scale": {"domain": [0, 1.8], "nice": false, "zero": false},
            "axis": {"title": "Continuum corrected reflectance", "values": [0, 0.2, 0.4, 0.6, 0.8, 1.0, 1.2, 1.4, 1.6, 1.8], "format": ".1f", "titlePadding": 5}},
      "color": {"field": "g", "type": "nominal", "scale": {"domain": ["n", "h"], "range": ["#222222", "#999999"]},
                "legend": {"orient": "none", "legendX": 93, "legendY": 433.5, "title": null, "labelExpr": "datum.value == 'n' ? 'non-bombarded' : 'He⁺ 6x10¹⁶'", "labelFontSize": 18, "labelColor": "#333333", "labelFont": "Liberation Sans", "symbolType": "circle", "symbolSize": 110, "symbolStrokeWidth": 0, "padding": 7, "strokeColor": "#dddddd", "fillColor": "#ffffff", "cornerRadius": 4, "rowPadding": 9.5, "symbolOffset": 14, "labelOffset": 24}}
     }
    },
    {
     "data": {"name": "ltext"},
     "mark": {"type": "text", "fontSize": 18, "color": "#333333", "align": "center", "baseline": "middle"},
     "encoding": {
      "x": {"field": "wn", "type": "quantitative", "axis": {"orient": "top", "title": "Wavenumber [cm⁻¹]", "values": [3750, 3500, 3250, 3000], "format": "d", "titlePadding": 2}},
      "y": {"field": "r", "type": "quantitative", "title": "Continuum corrected reflectance"},
      "text": {"field": "t"}
     }
    }
   ],
   "resolve": {"axis": {"x": "independent"}}
  },
  {
   "width": 198,
   "height": 502,
   "layer": [
    {
     "data": {"name": "rline"},
     "mark": {"type": "line", "interpolate": "monotone", "strokeWidth": 2, "clip": true},
     "encoding": {
      "x": {"field": "wn", "type": "quantitative",
            "scale": {"domain": [3581.7, 3759.4], "reverse": true, "nice": false, "zero": false},
            "axis": {"orient": "bottom", "title": "Wavelength [µm]", "values": [3703.7, 3636.36], "labelExpr": "format(10000/datum.value, '.2f')", "titlePadding": 3}},
      "y": {"field": "r", "type": "quantitative", "scale": {"domain": [0, 1.8], "nice": false, "zero": false},
            "axis": {"title": "Continuum corrected reflectance", "values": [0, 0.2, 0.4, 0.6, 0.8, 1.0, 1.2, 1.4, 1.6, 1.8], "format": ".1f", "titlePadding": 5}},
      "color": {"field": "g", "type": "nominal", "scale": {"domain": ["n", "h"], "range": ["#222222", "#999999"]}, "legend": null},
      "detail": {"field": "s"}
     }
    },
    {
     "data": {"name": "rpts"},
     "mark": {"type": "point", "filled": true, "size": 16, "opacity": 1, "clip": true},
     "encoding": {
      "x": {"field": "wn", "type": "quantitative", "axis": null},
      "y": {"field": "r", "type": "quantitative", "title": "Continuum corrected reflectance"},
      "color": {"field": "g", "type": "nominal", "legend": null}
     }
    },
    {
     "data": {"name": "rrule"},
     "mark": {"type": "rule", "strokeDash": [6, 3], "strokeWidth": 1.5},
     "encoding": {
      "x": {"field": "wn", "type": "quantitative", "axis": null},
      "y": {"field": "r1", "type": "quantitative", "title": "Continuum corrected reflectance"},
      "y2": {"field": "r2"},
      "color": {"field": "g", "type": "nominal", "legend": null}
     }
    },
    {
     "data": {"name": "rtext"},
     "mark": {"type": "text", "fontSize": 18, "color": "#333333", "align": "center", "baseline": "middle"},
     "encoding": {
      "x": {"field": "wn", "type": "quantitative", "axis": {"orient": "top", "title": "Wavenumber [cm⁻¹]", "values": [3700, 3600], "format": "d", "titlePadding": 2}},
      "y": {"field": "r", "type": "quantitative", "title": "Continuum corrected reflectance"},
      "text": {"field": "t"}
     }
    }
   ],
   "resolve": {"axis": {"x": "independent"}}
  }
 ],
 "spacing": 101,
 "bounds": "flush",
 "resolve": {"scale": {"color": "independent"}}
}
